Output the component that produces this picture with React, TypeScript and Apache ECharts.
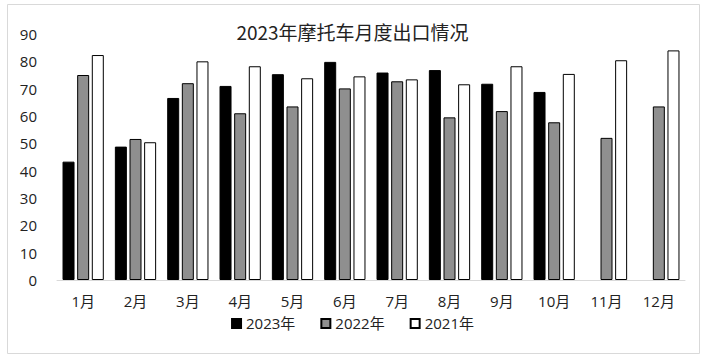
import React, { useEffect, useRef } from "react";
import * as echarts from "echarts";

const categories = ["1月", "2月", "3月", "4月", "5月", "6月", "7月", "8月", "9月", "10月", "11月", "12月"];
const s2023 = [43.3, 48.8, 66.6, 71, 75.3, 79.8, 75.9, 76.8, 71.8, 68.8, null, null];
const s2022 = [75, 51.6, 72, 61, 63.5, 70.1, 72.7, 59.5, 61.8, 57.7, 52, 63.5];
const s2021 = [82.3, 50.4, 80, 78.2, 73.8, 74.5, 73.4, 71.6, 78.2, 75.4, 80.4, 84];
const seriesNames = ["2023年", "2022年", "2021年"];
const title = "2023年摩托车月度出口情况";

const FONT = "'Open Sans', 'Noto Sans CJK SC', sans-serif";

export default function App() {
  const ref = useRef<HTMLDivElement>(null);
  useEffect(() => {
    document.body.style.margin = "0";
    const chart = echarts.init(ref.current!, null, { renderer: "svg" });
    const bar = (name: string, data: (number | null)[], color: string, border: string) => ({
      name,
      type: "bar",
      data,
      barWidth: 12,
      barGap: "22%",
      itemStyle: { color, borderColor: border, borderWidth: 1 },
    });
    chart.setOption({
      animation: false,
      backgroundColor: "#fff",
      textStyle: { fontFamily: FONT },
      title: {
        text: title,
        left: "center",
        top: 17,
        textStyle: { fontSize: 19, fontWeight: "normal", color: "#222", fontFamily: "'Noto Sans CJK SC', sans-serif" },
      },
      graphic: [
        {
          type: "rect",
          shape: { x: 7.5, y: 4.5, width: 692, height: 349 },
          style: { fill: "none", stroke: "#d9d9d9", lineWidth: 1 },
          silent: true,
        },
      ],
      legend: {
        bottom: 25,
        left: "center",
        icon: "rect",
        itemWidth: 9,
        itemHeight: 9,
        itemGap: 25,
        textStyle: { fontSize: 15, color: "#222", fontFamily: FONT },
        data: seriesNames,
      },
      grid: { left: 57, right: 20, top: 34, bottom: 81, containLabel: false },
      xAxis: {
        type: "category",
        data: categories,
        axisLine: { lineStyle: { color: "#d9d9d9", width: 1 } },
        axisTick: { show: false },
        axisLabel: { fontSize: 15, color: "#222", margin: 13, fontFamily: FONT },
      },
      yAxis: {
        type: "value",
        min: 0,
        max: 90,
        interval: 10,
        splitLine: { show: false },
        axisLine: { show: false },
        axisTick: { show: false },
        axisLabel: { fontSize: 15, color: "#222", margin: 20, fontFamily: FONT },
      },
      series: [
        bar(seriesNames[0], s2023, "#000000", "#000000"),
        bar(seriesNames[1], s2022, "#8f8f8f", "#000000"),
        bar(seriesNames[2], s2021, "#ffffff", "#000000"),
      ],
    });
    return () => chart.dispose();
  }, []);
  return <div ref={ref} style={{ width: 705, height: 361, position: "absolute", left: 0, top: 0 }} />;
}
